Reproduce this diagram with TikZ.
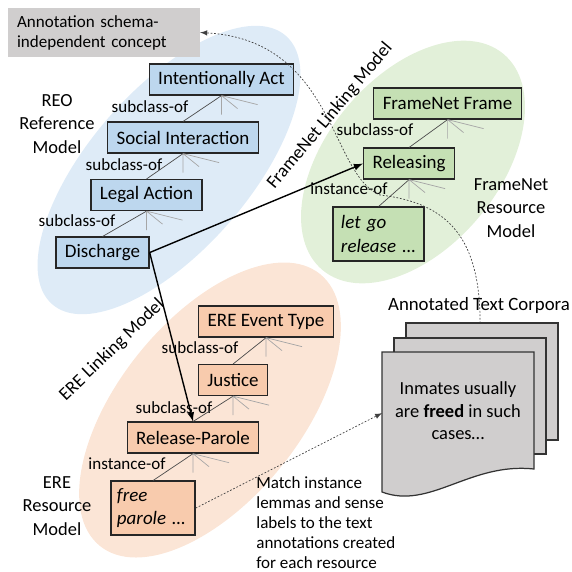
\documentclass[tikz,border=0pt]{standalone}
\usepackage{fontspec}
\setmainfont{Carlito}
\definecolor{reofill}{HTML}{DEEBF7}
\definecolor{reobox}{HTML}{BDD7EE}
\definecolor{fnfill}{HTML}{E2F0D9}
\definecolor{fnbox}{HTML}{C5E0B4}
\definecolor{erefill}{HTML}{FBE5D6}
\definecolor{erebox}{HTML}{F8CBAD}
\definecolor{paper}{HTML}{D0CECE}
\begin{document}
\begin{tikzpicture}[scale=0.02]
\tikzstyle{every node}+=[inner sep=0pt]
\tikzstyle{cls}=[draw=black!85, line width=0.7pt, inner xsep=5.1pt, minimum height=17.6pt, font=\fontsize{10.8}{13}\selectfont]
\tikzstyle{inst}=[cls, align=left, minimum height=30.7pt, font=\fontsize{10.8}{13.4}\selectfont\itshape]
\tikzstyle{rel}=[font=\fontsize{9.7}{11}\selectfont]
\tikzstyle{model}=[align=center, font=\fontsize{10.5}{13.3}\selectfont]
\tikzstyle{link}=[draw=black!70, line width=0.4pt]
\tikzstyle{fan}=[draw=black!35, line width=0.4pt]
\tikzstyle{map}=[black, line width=0.8pt, -latex]
\tikzstyle{hint}=[black!75, line width=0.4pt, dash pattern=on 1pt off 1pt, -latex]
\tikzstyle{sheet}=[fill=paper, draw=black!80, line width=0.7pt]
\useasboundingbox (0,0) rectangle (572,-571);
\fill [reofill, rotate around={49:(169,-170)}] (169,-170) ellipse (178 and 80);
\fill [fnfill, rotate around={50:(413,-162)}] (413,-162) ellipse (141 and 86);
\fill [erefill, rotate around={51:(210,-410)}] (210,-410) ellipse (175 and 91);
\node [fill=paper, align=left, text width=99pt, inner xsep=5pt, minimum height=27.9pt, font=\fontsize{9.7}{11.4}\selectfont] (concept) at (104,-32.5) {Annotation schema-\\independent concept};
\node [cls, fill=reobox] (ia) at (221.5,-79.5) {Intentionally Act};
\node [cls, fill=reobox] (si) at (183,-137.5) {Social Interaction};
\node [cls, fill=reobox] (la) at (146.5,-195) {Legal Action};
\node [cls, fill=reobox] (dis) at (102.5,-252.5) {Discharge};
\node [cls, fill=fnbox] (fnf) at (447.5,-103.5) {FrameNet Frame};
\node [cls, fill=fnbox] (rel) at (409,-163.5) {Releasing};
\node [inst, fill=fnbox, text width=42.7pt, inner xsep=4.5pt] (letgo) at (378.5,-234) {let go\\release …};
\node [cls, fill=erebox] (eet) at (266,-321.5) {ERE Event Type};
\node [cls, fill=erebox] (jus) at (233,-380) {Justice};
\node [cls, fill=erebox] (rp) at (193,-437.5) {Release-Parole};
\node [inst, fill=erebox, text width=41pt, inner xsep=3.4pt] (free) at (153,-508) {free\\parole …};
\node [rel] (sub1) at (150,-107) {subclass-of};
\node [rel] (sub2) at (124,-165) {subclass-of};
\node [rel] (sub3) at (77,-221) {subclass-of};
\node [rel] (sub4) at (375,-130) {subclass-of};
\node [rel] (ins1) at (349,-189) {instance-of};
\node [rel] (sub5) at (200,-348) {subclass-of};
\node [rel] (sub6) at (174,-408) {subclass-of};
\node [rel] (ins2) at (127,-464) {instance-of};
\node [model] (reo) at (57,-124) {REO\\Reference\\Model};
\node [model] (fnres) at (511,-208) {FrameNet\\Resource\\Model};
\node [model] (ereres) at (57,-506) {ERE\\Resource\\Model};
\node [model, rotate=50] (fnlink) at (330,-116) {FrameNet Linking Model};
\node [model, rotate=44] (erelink) at (112,-350) {ERE Linking Model};
\draw [link] (si.north) -- (ia.south);
\draw [link] (la.north) -- (si.south);
\draw [link] (dis.north) -- (la.south);
\draw [link] (rel.north) -- (fnf.south);
\draw [link] (letgo.north) -- (rel.south);
\draw [link] (jus.north) -- (eet.south);
\draw [link] (rp.north) -- (jus.south);
\draw [link] (free.north) -- (rp.south);
\draw [fan] (ia.south) -- ++(0,-19) (ia.south) -- ++(16,-13) (ia.south) -- ++(36,-9);
\draw [fan] (si.south) -- ++(0,-19) (si.south) -- ++(16,-13) (si.south) -- ++(36,-9);
\draw [fan] (la.south) -- ++(0,-19) (la.south) -- ++(16,-13) (la.south) -- ++(36,-9);
\draw [fan] (fnf.south) -- ++(0,-19) (fnf.south) -- ++(16,-13) (fnf.south) -- ++(36,-9);
\draw [fan] (rel.south) -- ++(0,-19) (rel.south) -- ++(16,-13) (rel.south) -- ++(36,-9);
\draw [fan] (eet.south) -- ++(0,-19) (eet.south) -- ++(16,-13) (eet.south) -- ++(36,-9);
\draw [fan] (jus.south) -- ++(0,-19) (jus.south) -- ++(16,-13) (jus.south) -- ++(36,-9);
\draw [fan] (rp.south) -- ++(0,-19) (rp.south) -- ++(16,-13) (rp.south) -- ++(36,-9);
\draw [map] (dis.east) -- (rel.west);
\draw [map] (dis.east) -- (rp.north);
\draw [sheet] (406,-323) rectangle (558,-440);
\draw [sheet] (394,-338) rectangle (546,-454);
\draw [sheet] (382,-352) -- (534,-352) -- (534,-469) .. controls (470,-462) and (430,-510) .. (382,-492) -- cycle;
\coordinate (doctop) at (480,-323);
\coordinate (docin) at (382,-413);
\node [align=center, font=\fontsize{10.5}{12.8}\selectfont] (corpus) at (458,-411) {Inmates usually\\are \textbf{freed} in such\\cases…};
\node [model, font=\fontsize{10.7}{13}\selectfont] (corpora) at (479,-305) {Annotated Text Corpora};
\node [align=left, anchor=north west, font=\fontsize{9.7}{11.4}\selectfont] (match) at (256,-476) {Match instance\\lemmas and sense\\labels to the text\\annotations created\\for each resource};
\draw [hint] (doctop) .. controls (480,-240) and (450,-203) .. (380,-195) .. controls (330,-175) and (335,-40) .. (concept.east);
\draw [hint] (free.east) -- (docin);
\end{tikzpicture}
\end{document}
